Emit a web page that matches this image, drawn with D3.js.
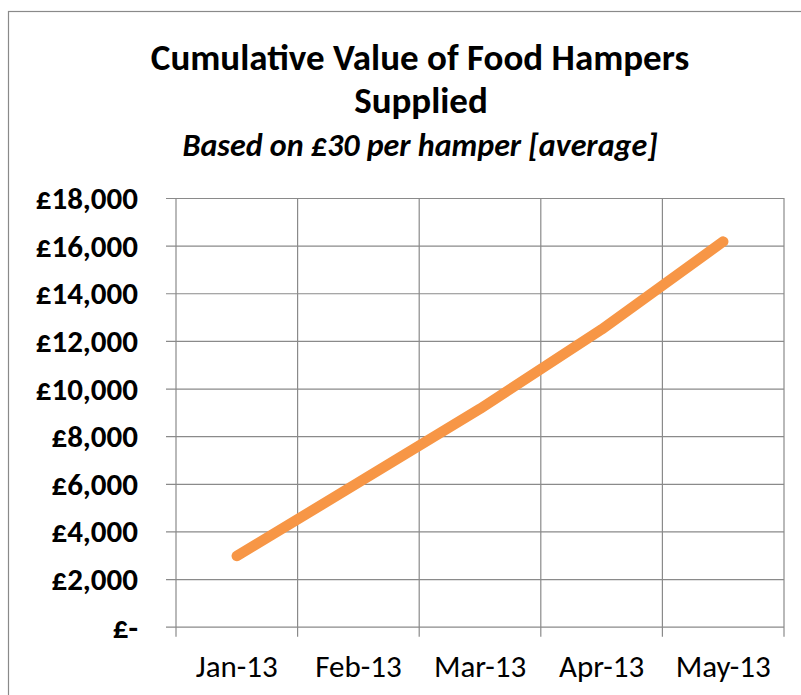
<!DOCTYPE html>
<html>
<head>
<meta charset="utf-8">
<script src="https://cdn.jsdelivr.net/npm/d3@7"></script>
<style>
  html, body { margin: 0; padding: 0; background: #fff; }
  svg { display: block; }
  text { font-family: Carlito, Calibri, Lato, "Open Sans", sans-serif; }
</style>
</head>
<body>
<svg id="chart" width="801" height="695"></svg>
<script>
// ---- data ----
const categories = ["Jan-13", "Feb-13", "Mar-13", "Apr-13", "May-13"];
const values = [2970, 6050, 9150, 12480, 16170];
const yTicks = [0, 2000, 4000, 6000, 8000, 10000, 12000, 14000, 16000, 18000];
const titleLines = ["Cumulative Value of Food Hampers", "Supplied"];
const subtitle = "Based on £30 per hamper [average]";

// ---- layout ----
const plot = { left: 176, right: 784, top: 198, bottom: 626.7 };
const gridColor = "#8a8a8a";
const lineColor = "#F79646";
const fontFam = "Carlito, Calibri, Lato, sans-serif";

const svg = d3.select("#chart");

// outer border
svg.append("rect")
  .attr("x", 8.5).attr("y", 11.5)
  .attr("width", 820).attr("height", 720)
  .attr("fill", "#fff")
  .attr("stroke", gridColor).attr("stroke-width", 1.2);

const x = d3.scaleBand().domain(categories).range([plot.left, plot.right]).paddingInner(0).paddingOuter(0);
const y = d3.scaleLinear().domain([0, 18000]).range([plot.bottom, plot.top]);

// titles
svg.append("text")
  .attr("x", 420).attr("y", 70)
  .attr("text-anchor", "middle")
  .attr("font-size", 37).attr("font-weight", "bold")
  .text(titleLines[0]);
svg.append("text")
  .attr("x", 421).attr("y", 113)
  .attr("text-anchor", "middle")
  .attr("font-size", 37).attr("font-weight", "bold")
  .text(titleLines[1]);
svg.append("text")
  .attr("x", 420).attr("y", 156)
  .attr("text-anchor", "middle")
  .attr("font-size", 32).attr("font-weight", "bold").attr("font-style", "italic")
  .text(subtitle);

// horizontal gridlines via y axis
const fmt = v => v === 0 ? "£-" : "£" + d3.format(",")(v);
const yAxis = svg.append("g")
  .attr("transform", `translate(${plot.left},0)`)
  .call(d3.axisLeft(y).tickValues(yTicks).tickFormat(fmt)
    .tickSize(-(plot.right - plot.left)).tickSizeOuter(0).tickPadding(0));
yAxis.select(".domain").remove();
yAxis.selectAll(".tick line")
  .attr("x1", -10)
  .attr("stroke", gridColor).attr("stroke-width", 1.2);
yAxis.selectAll(".tick text")
  .attr("x", -38)
  .attr("dy", "0.34em")
  .attr("fill", "#000")
  .attr("font-size", 31).attr("font-weight", "bold")
  .style("font-family", fontFam);

// vertical gridlines at band boundaries
const bounds = categories.map(c => x(c)).concat([x(categories[categories.length - 1]) + x.bandwidth()]);
svg.append("g").selectAll("line")
  .data(bounds).join("line")
  .attr("x1", d => d).attr("x2", d => d)
  .attr("y1", plot.top).attr("y2", plot.bottom + 10)
  .attr("stroke", gridColor).attr("stroke-width", 1.2);

// x axis labels
const xAxis = svg.append("g")
  .attr("transform", `translate(0,${plot.bottom})`)
  .call(d3.axisBottom(x).tickSize(0).tickPadding(0));
xAxis.select(".domain").remove();
xAxis.selectAll(".tick text")
  .attr("y", 50).attr("dy", 0)
  .attr("fill", "#000")
  .attr("font-size", 31)
  .style("font-family", fontFam);

// the line
const line = d3.line()
  .x((d, i) => x(categories[i]) + x.bandwidth() / 2)
  .y(d => y(d));
svg.append("path")
  .datum(values)
  .attr("d", line)
  .attr("fill", "none")
  .attr("stroke", lineColor)
  .attr("stroke-width", 10.5)
  .attr("stroke-linecap", "round")
  .attr("stroke-linejoin", "round");
</script>
</body>
</html>
